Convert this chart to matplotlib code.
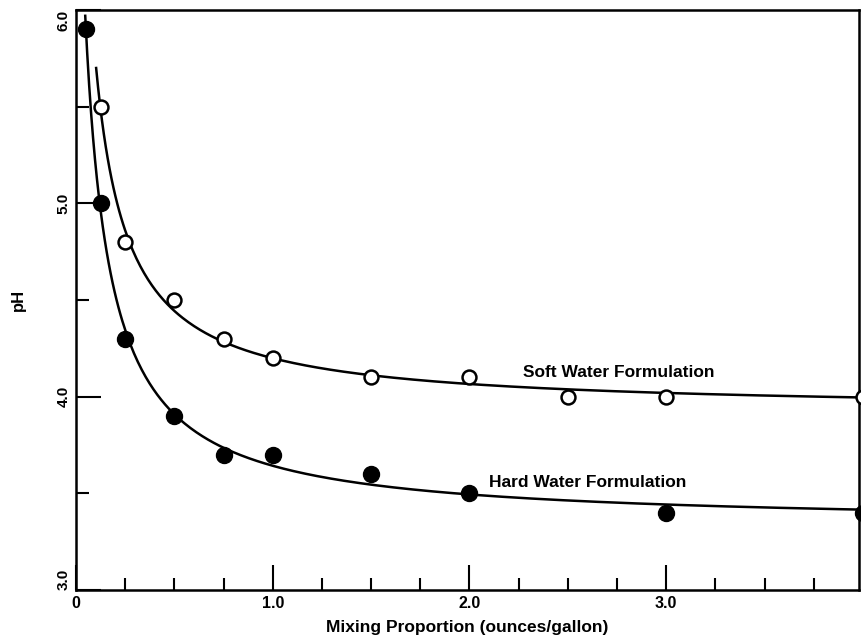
import numpy as np
import matplotlib
matplotlib.use("Agg")
import matplotlib.pyplot as plt
from matplotlib.ticker import MultipleLocator, FixedLocator

# data
hard_x = [0.05, 0.125, 0.25, 0.5, 0.75, 1.0, 1.5, 2.0, 3.0, 4.0]
hard_ph = [5.9, 5.0, 4.3, 3.9, 3.7, 3.7, 3.6, 3.5, 3.4, 3.4]
soft_x = [0.125, 0.25, 0.5, 0.75, 1.0, 1.5, 2.0, 2.5, 3.0, 4.0]
soft_ph = [5.5, 4.8, 4.5, 4.3, 4.2, 4.1, 4.1, 4.0, 4.0, 4.0]

x_ticks = [0, 1.0, 2.0, 3.0]
x_tick_labels = ["0", "1.0", "2.0", "3.0"]
y_ticks = [3.0, 4.0, 5.0, 6.0]
y_tick_labels = ["3.0", "4.0", "5.0", "6.0"]


def fit_curve(x, y):
    # ph = a + b / (x + c), grid search on c, least squares on a, b
    x = np.asarray(x)
    y = np.asarray(y)
    best = None
    for c in np.linspace(0.01, 1.0, 400):
        A = np.column_stack([np.ones_like(x), 1.0 / (x + c)])
        coef, res, _, _ = np.linalg.lstsq(A, y, rcond=None)
        err = np.sum((A @ coef - y) ** 2)
        if best is None or err < best[0]:
            best = (err, coef[0], coef[1], c)
    return best[1:]


def draw_fit(ax, x, y, top):
    a, b, c = fit_curve(x, y)
    # start the curve where the fit reaches the given pH
    x0 = b / (top - a) - c
    xs = np.linspace(x0, 4.0, 400)
    ax.plot(xs, a + b / (xs + c), color="black", lw=1.8)


plt.rcParams['font.family'] = ['Liberation Sans', 'DejaVu Sans']
plt.rcParams['font.weight'] = 'bold'

fig = plt.figure(figsize=(8.61, 6.41), dpi=100)
ax = fig.add_axes([76 / 861, 51 / 641, 783 / 861, 580 / 641])

draw_fit(ax, hard_x, hard_ph, 5.97)
draw_fit(ax, soft_x, soft_ph, 5.7)

ax.plot(hard_x, hard_ph, "o", color="black", ms=11.5, clip_on=False, zorder=3)
ax.plot(soft_x, soft_ph, "o", mfc="white", mec="black", mew=1.8, ms=10,
        clip_on=False, zorder=3)

ax.text(2.27, 4.10, "Soft Water Formulation", fontsize=12.5, fontweight="bold")
ax.text(2.10, 3.535, "Hard Water Formulation", fontsize=12.5, fontweight="bold")

ax.set_xlim(0, 3.98)
ax.set_ylim(3.0, 6.0)

ax.xaxis.set_major_locator(FixedLocator(x_ticks))
ax.set_xticklabels(x_tick_labels, fontsize=11.5, fontweight="bold")
ax.xaxis.set_minor_locator(MultipleLocator(0.25))
ax.yaxis.set_major_locator(FixedLocator(y_ticks))
ax.set_yticklabels(y_tick_labels, fontsize=11, fontweight="bold",
                   rotation=90)
ax.yaxis.set_minor_locator(MultipleLocator(0.5))

ax.tick_params(which="both", direction="in", top=False, right=False,
               width=1.5, pad=4)
ax.tick_params(which="major", length=18)
ax.tick_params(which="minor", length=9)
ylabs = ax.get_yticklabels()
ylabs[0].set_va("bottom")
ylabs[-1].set_va("top")
for lab in ylabs[1:-1]:
    lab.set_va("center")

for s in ax.spines.values():
    s.set_linewidth(1.8)

ax.set_xlabel("Mixing Proportion (ounces/gallon)", fontsize=12.5,
              fontweight="bold", labelpad=7)
ax.set_ylabel("pH", fontsize=12, fontweight="bold", labelpad=22)

fig.savefig("out.png", dpi=100)
